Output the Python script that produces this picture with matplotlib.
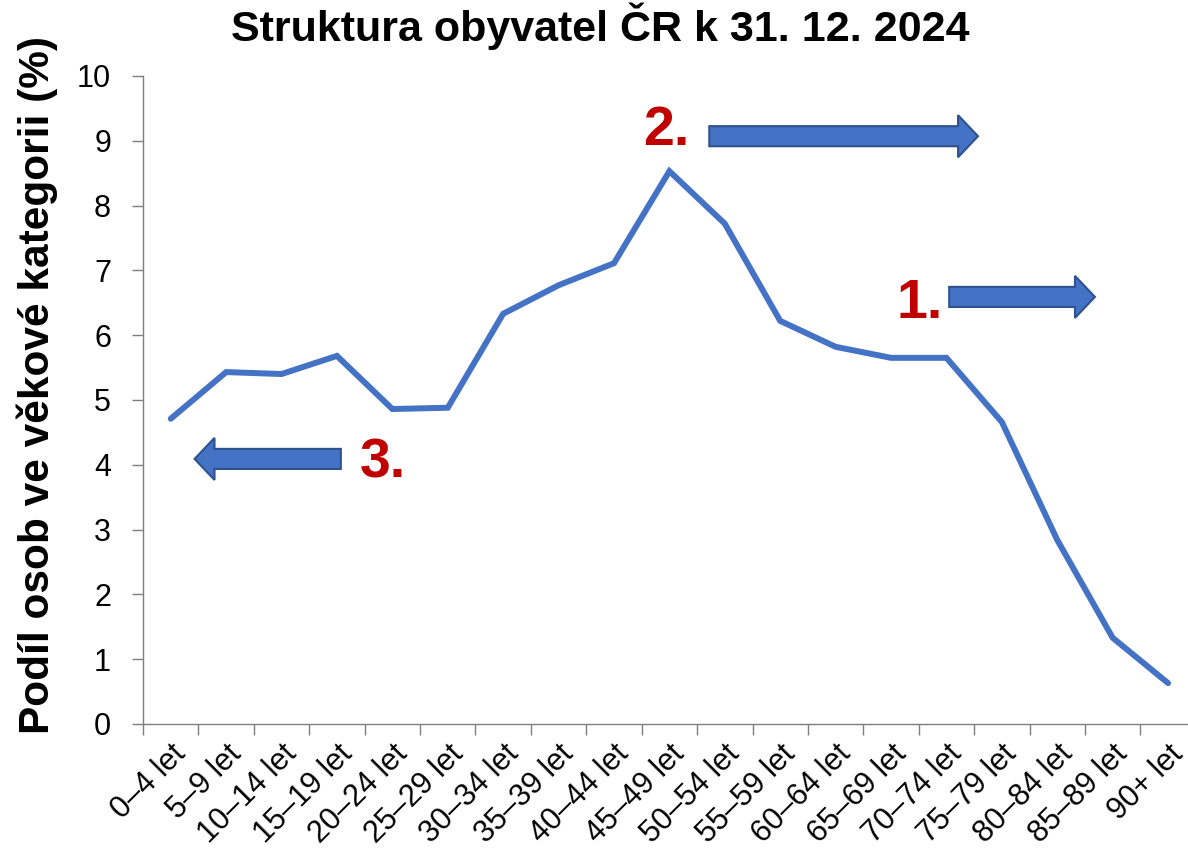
import matplotlib.pyplot as plt
from matplotlib.patches import FancyArrow

plt.rcParams['font.family'] = ['Liberation Sans', 'DejaVu Sans']

categories = ["0–4 let", "5–9 let", "10–14 let", "15–19 let", "20–24 let", "25–29 let",
              "30–34 let", "35–39 let", "40–44 let", "45–49 let", "50–54 let", "55–59 let",
              "60–64 let", "65–69 let", "70–74 let", "75–79 let", "80–84 let", "85–89 let",
              "90+ let"]
shares = [4.71, 5.43, 5.40, 5.68, 4.86, 4.88, 6.33, 6.77, 7.11, 8.53,
          7.72, 6.22, 5.82, 5.65, 5.65, 4.66, 2.84, 1.33, 0.63]

line_col = '#4472C4'
edge_col = '#2F528F'
red = '#C00000'
axis_col = '#7F7F7F'

fig = plt.figure(figsize=(11.88, 8.59), dpi=100)
ax = fig.add_axes([0.1204, 0.1572, 0.8796, 0.7544])

x = list(range(len(categories)))
ax.plot(x, shares, color=line_col, lw=4.3, solid_capstyle='round', solid_joinstyle='miter')

ax.set_ylim(0, 10)
ax.set_xlim(-0.5, 18.36)
ax.set_yticks(range(0, 11))
ax.tick_params(axis='y', labelsize=22, length=8, color=axis_col, width=1, pad=15)

# tick marks between categories, labels at category centres
ax.set_xticks([i - 0.5 for i in range(len(categories))])
ax.set_xticklabels([])
ax.tick_params(axis='x', which='major', length=8, color=axis_col, width=1)
ax.set_xticks(x, minor=True)
ax.set_xticklabels(categories, minor=True, rotation=45, ha='right', rotation_mode='anchor', fontsize=22)
ax.tick_params(axis='x', which='minor', length=0, pad=11)

for s in ['top', 'right']:
    ax.spines[s].set_visible(False)
for s in ['left', 'bottom']:
    ax.spines[s].set_color(axis_col)
    ax.spines[s].set_linewidth(1)

ax.set_ylabel('Podíl osob ve věkové kategorii (%)', fontsize=30.5, fontweight='bold')
ax.yaxis.set_label_coords(-0.081, 0.523)
fig.suptitle('Struktura obyvatel ČR k 31. 12. 2024', fontsize=31, fontweight='bold', x=0.505, y=0.997)

# arrows (tail x, tip x, y)
arrows = [(9.72, 14.57, 9.07), (14.05, 16.68, 6.59), (3.07, 0.43, 4.09)]
for x0, x1, yc in arrows:
    ax.add_patch(FancyArrow(x0, yc, x1 - x0, 0, width=0.31, head_width=0.65,
                            head_length=0.36, length_includes_head=True,
                            facecolor=line_col, edgecolor=edge_col, lw=1.5, clip_on=False))

labels = [('2.', 8.53, 8.93), ('1.', 13.1, 6.27), ('3.', 3.41, 3.81)]
for t, tx, ty in labels:
    ax.text(tx, ty, t, color=red, fontsize=40, fontweight='bold', ha='left', va='baseline')

fig.savefig('out.png', dpi=100)
